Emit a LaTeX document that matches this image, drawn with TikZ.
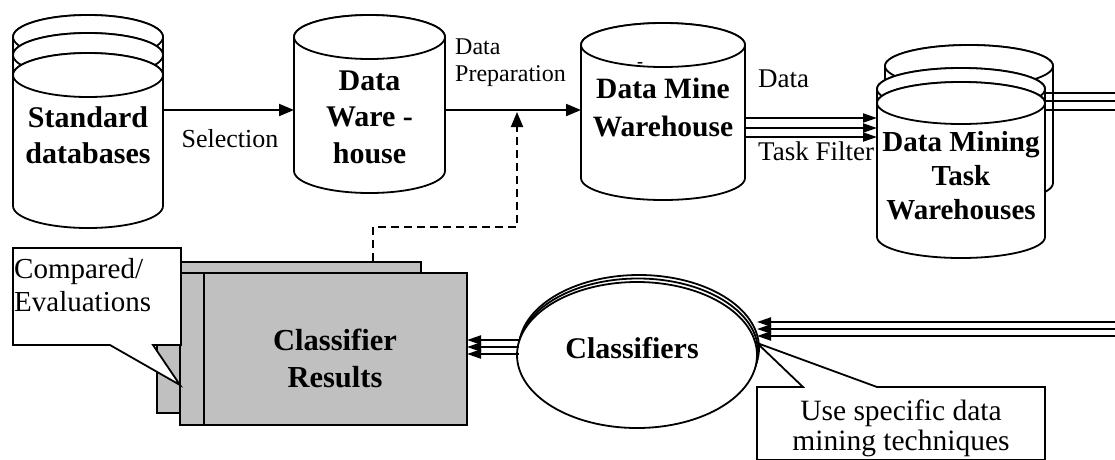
\documentclass[tikz,border=0pt]{standalone}
\usepackage{fontspec}
\setmainfont{Liberation Serif}
\usetikzlibrary{arrows.meta}

% database cylinder: centre x, top-ellipse centre y, bottom-ellipse centre y, x radius, y radius
% (y values measured downwards)
\newcommand{\dbcyl}[5]{%
  \filldraw[outline] ({#1-#4},{-#2}) -- ({#1-#4},{-#3})
    arc[start angle=180,end angle=360,x radius=#4,y radius=#5]
    -- ({#1+#4},{-#2})
    arc[start angle=0,end angle=180,x radius=#4,y radius=#5] -- cycle;
  \draw[outline] ({#1},{-#2}) ellipse[x radius=#4,y radius=#5];}

\begin{document}
\begin{tikzpicture}[x=1pt,y=1pt,
  outline/.style={line width=1.8pt,fill=white},
  flow/.style={line width=1.9pt},
  bigtip/.style={-{Triangle[length=15pt,width=12pt]}},
  tritip/.style={line width=2pt,-{Triangle[length=14pt,width=9pt]}},
  title/.style={font=\fontsize{30}{36}\selectfont\bfseries,align=center,inner sep=0pt},
  lbl/.style={font=\fontsize{26}{27}\selectfont,inner sep=0pt},
  page/.style={line width=1.8pt,fill=pagegray},
  callout/.style={line width=1.8pt,fill=white,line join=miter}]
\definecolor{pagegray}{RGB}{192,192,192}
\useasboundingbox (0,0) rectangle (1115,-459);

% ---------- standard databases (stack of three) ----------
\dbcyl{88}{37}{170}{75}{22}
\dbcyl{88}{55}{190}{75}{22}
\dbcyl{88}{75}{206}{75}{22}
\node[title] (sd) at (88,-135) {Standard\\databases};
\coordinate (sd-e) at (163,-110);

% ---------- data warehouse ----------
\dbcyl{369.5}{37}{171}{75.5}{22}
\node[title,font=\fontsize{30}{36.5}\selectfont\bfseries] (dw) at (369.5,-117) {Data\\Ware -\\house};
\coordinate (dw-w) at (294,-110);
\coordinate (dw-e) at (445,-110);

% ---------- data mine warehouse ----------
\dbcyl{663}{45}{178}{82}{22}
\node[font=\fontsize{18}{18}\selectfont\bfseries,inner sep=0pt] (dash) at (640,-65) {-};
\node[title,font=\fontsize{29.5}{38}\selectfont\bfseries] (dmw) at (663,-107) {Data Mine\\Warehouse};
\coordinate (dmw-w) at (581,-110);

% ---------- data mining task warehouses (stack of three) ----------
\dbcyl{969}{66}{183}{84}{21}
\dbcyl{961}{89}{200}{84}{21}
\dbcyl{961}{103}{237}{84}{21}
\node[title,font=\fontsize{29}{34}\selectfont\bfseries] (dmt) at (961,-176) {Data Mining\\Task\\Warehouses};

% ---------- selection / preparation ----------
\draw[flow,bigtip] (sd-e) -- (dw-w);
\node[lbl,anchor=base] (sel) at (230,-147) {Selection};
\draw[flow,bigtip] (dw-e) -- (dmw-w);
\node[lbl,font=\fontsize{24}{27}\selectfont,align=left,anchor=north west] (prep) at (455,-39) {Data\\Preparation};

% ---------- task filter: three parallel flows ----------
\foreach \y [count=\i] in {118,128,137} {
  \coordinate (tf-a\i) at (745,-\y);
  \coordinate (tf-b\i) at (877,-\y);
  \draw[tritip] (tf-a\i) -- (tf-b\i);
}
\node[lbl,font=\fontsize{27}{30}\selectfont,anchor=base west] (tfdata) at (758,-87) {Data};
\node[lbl,font=\fontsize{27}{30}\selectfont,anchor=base west] (tfname) at (758,-160) {Task Filter};

% three lines leaving the task warehouses to the right
\foreach \y [count=\i] in {93,101,110} {
  \coordinate (out-a\i) at (1045,-\y);
  \coordinate (out-b\i) at (1115,-\y);
  \draw[line width=1.8pt] (out-a\i) -- (out-b\i);
}

% ---------- classifier results (stacked pages) ----------
\filldraw[page] (157,-300) rectangle (300,-413);
\filldraw[page] (180,-262) rectangle (421,-400);
\filldraw[page] (180,-273) rectangle (467,-425);
\draw[line width=1.8pt] (204,-273) -- (204,-425);
\node[title,font=\fontsize{30.5}{37}\selectfont\bfseries] (cr) at (335,-358) {Classifier\\Results};

% callout on the results
\filldraw[callout] (13,-248) -- (181,-248) -- (181,-345) -- (153,-345)
  -- (180,-385) -- (110,-345) -- (13,-345) -- cycle;
\node[lbl,font=\fontsize{29}{33}\selectfont,align=left,anchor=north west] (cmp) at (14,-258) {Compared/\\Evaluations};

% feedback from the results to the preparation step
\coordinate (cr-top) at (373,-261);
\coordinate (prep-in) at (517,-112);
\draw[flow,dash pattern=on 8pt off 5pt,bigtip] (cr-top) -- (373,-227) -- (517,-227) -- (prep-in);

% ---------- classifiers ----------
\filldraw[outline] (639,-348) ellipse[x radius=120,y radius=73];
\filldraw[outline] (638,-351.5) ellipse[x radius=120,y radius=73];
\filldraw[outline] (637,-355) ellipse[x radius=120,y radius=73];
\node[title,font=\fontsize{30}{36}\selectfont\bfseries] (cl) at (632,-348) {Classifiers};

% flows into the classifiers from the right
\foreach \y [count=\i] in {322,329,336} {
  \coordinate (in-a\i) at (1115,-\y);
  \coordinate (in-b\i) at (757,-\y);
  \draw[tritip] (in-a\i) -- (in-b\i);
}
% flows from the classifiers to the results
\foreach \y [count=\i] in {340,347,354} {
  \coordinate (res-a\i) at (519,-\y);
  \coordinate (res-b\i) at (467,-\y);
  \draw[tritip] (res-a\i) -- (res-b\i);
}

% callout on the classifiers
\coordinate (cl-tip) at (757,-343);
\filldraw[callout] (757,-387) -- (803,-387) -- (cl-tip) -- (877,-387)
  -- (1045,-387) -- (1045,-460) -- (757,-460) -- cycle;
\node[lbl,font=\fontsize{29.5}{30}\selectfont,align=center] (tech) at (901,-428) {Use specific data\\mining techniques};
\end{tikzpicture}
\end{document}
